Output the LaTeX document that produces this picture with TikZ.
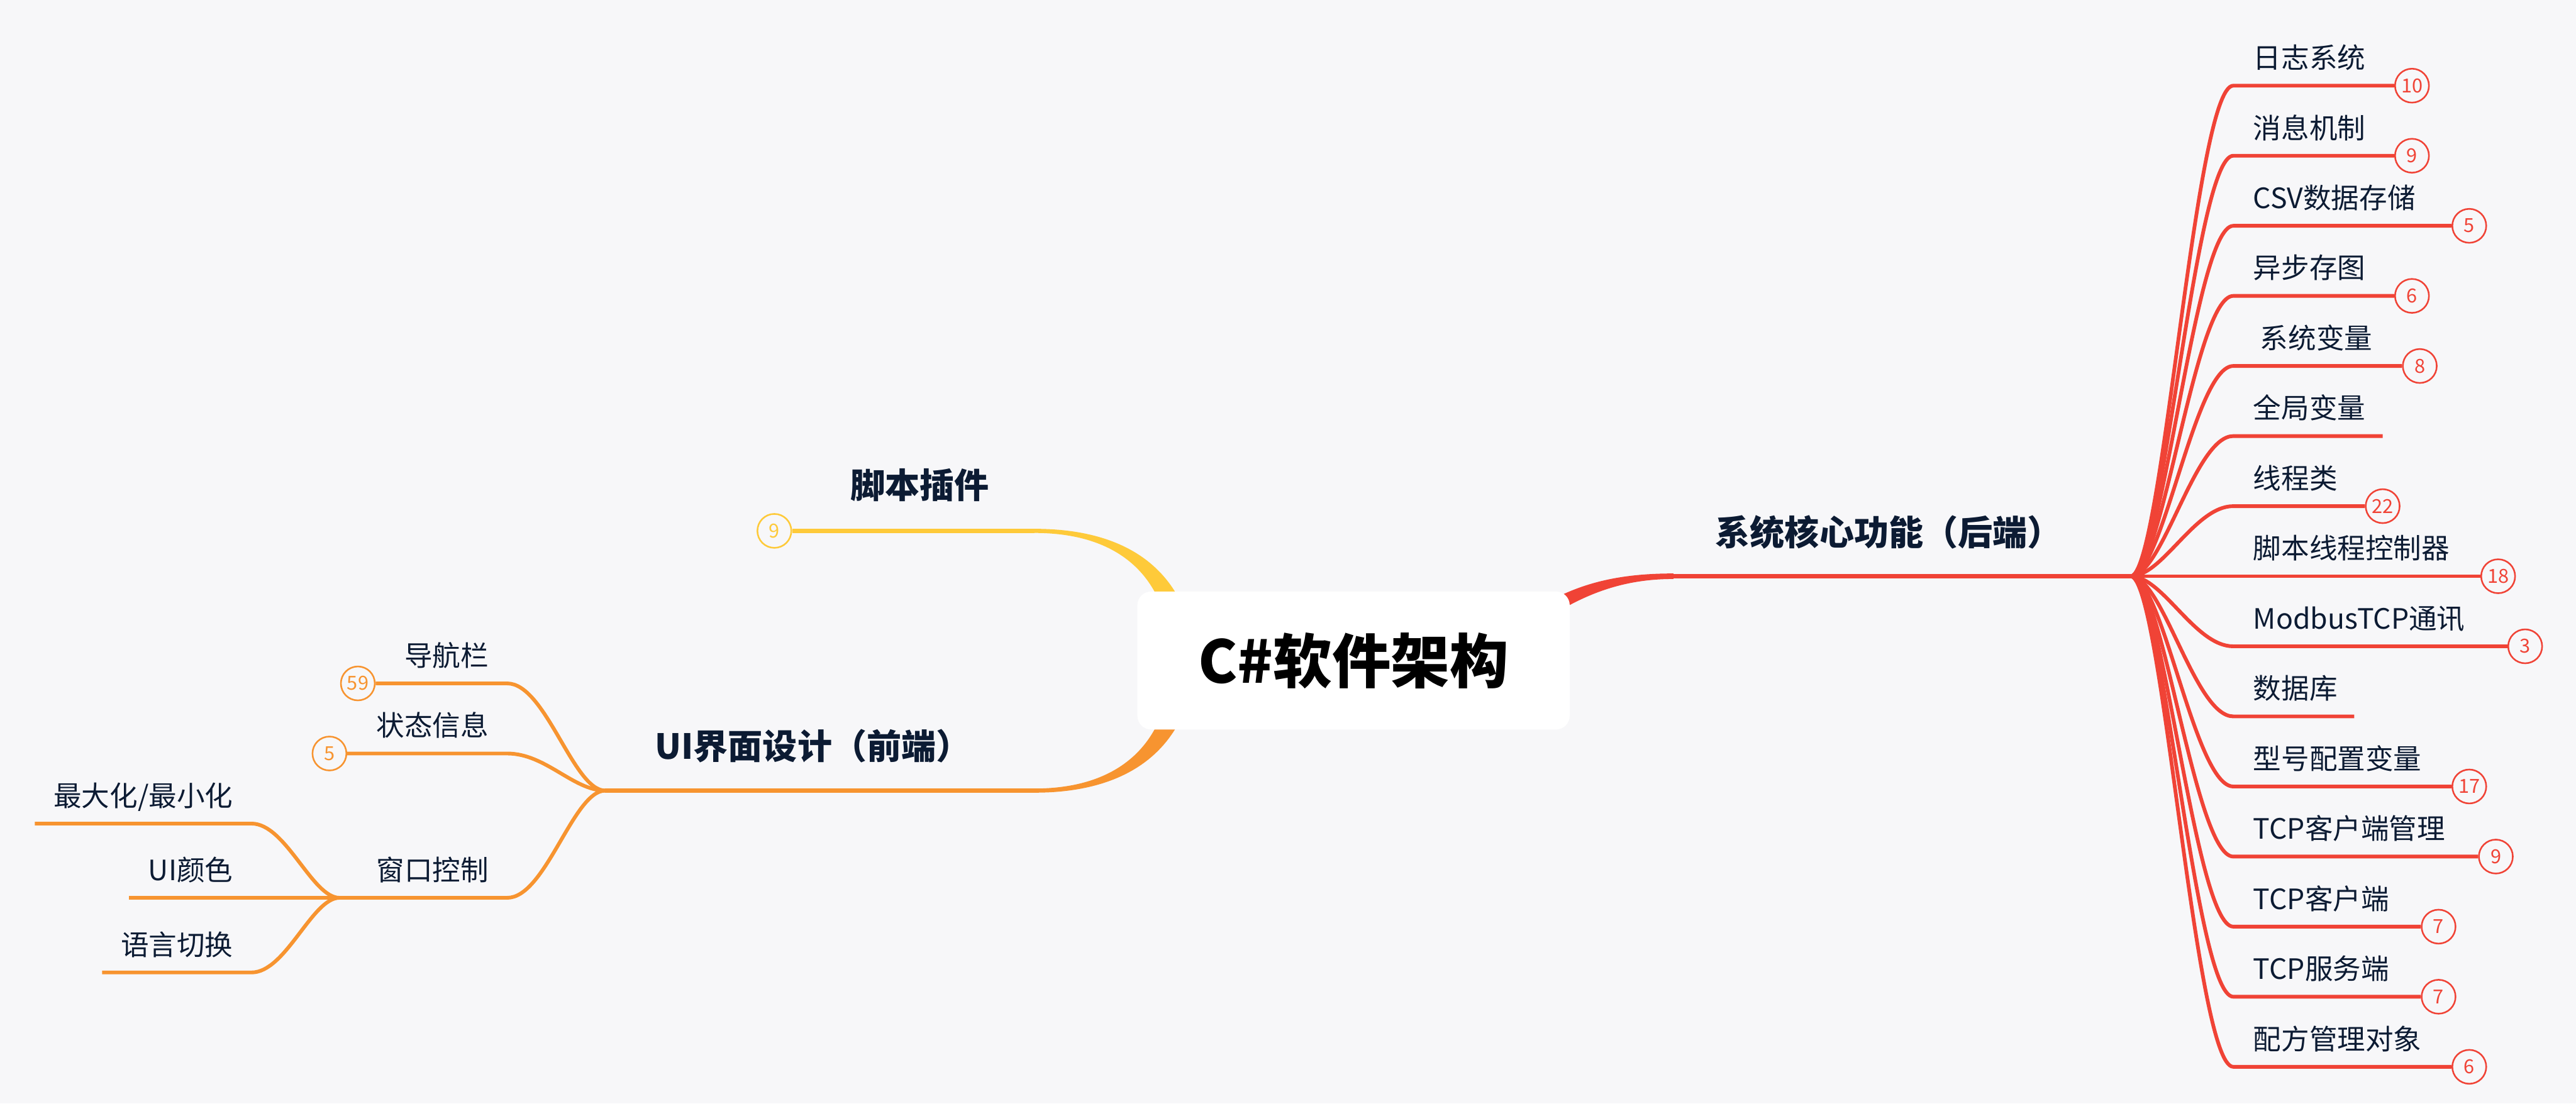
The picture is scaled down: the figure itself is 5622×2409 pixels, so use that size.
\documentclass[tikz,border=0pt]{standalone}
\usepackage{fontspec}
\setmainfont{Noto Sans CJK SC}
\usetikzlibrary{calc}
\definecolor{BackClr}{RGB}{247,247,249}
\definecolor{TextClr}{RGB}{12,27,51}
\definecolor{CoreClr}{RGB}{240,67,54}
\definecolor{UiClr}{RGB}{247,148,48}
\definecolor{PlugClr}{RGB}{254,202,58}
\pgfdeclarelayer{paper}
\pgfdeclarelayer{wires}
\pgfsetlayers{paper,wires,main}

\begin{document}
\begin{tikzpicture}[x=0.01cm,y=-0.01cm,
  topic/.style={font=\fontsize{21.5}{26}\selectfont\bfseries,text=TextClr,inner sep=0pt,anchor=base},
  leaf/.style={font=\fontsize{17.4}{21}\selectfont,text=TextClr,inner sep=0pt},
  badge/.style={circle,draw=#1,text=#1,fill=BackClr,line width=1pt,minimum size=0.74cm,inner sep=0pt,font=\fontsize{12}{14}\selectfont},
  stem/.style={line width=2.6pt},
  twig/.style={line width=2.3pt}]

\begin{pgfonlayer}{paper}
\fill[BackClr] (0,0) rectangle (5622,2409);
\end{pgfonlayer}
\useasboundingbox (0,0) rectangle (5622,2409);

% central topic
\node[fill=white,rounded corners=0.3cm,minimum width=9.43cm,minimum height=3.01cm,
  font=\fontsize{36.5}{44}\selectfont\bfseries,text=black] (root) at (2954,1442) {C\#软件架构};

% main topics
\node[topic] (plugT) at (2007,1088) {脚本插件};
\node[topic] (coreT) at (4122,1190) {系统核心功能（后端）};
\node[topic] (uiT) at (1774,1657) {UI界面设计（前端）};

\coordinate (plug) at (2258,1159);
\coordinate (coreL) at (3652,1258);
\coordinate (core) at (4650,1258);
\coordinate (uiR) at (2258,1726);
\coordinate (ui) at (1321,1726);
\coordinate (win) at (741,1960);

\node[badge=PlugClr] (p1) at (1690,1159) {9};

% back end
\coordinate (c1) at (4874,187);  \node[badge=CoreClr] (n1) at (5264,187) {10};
\coordinate (c2) at (4874,340);  \node[badge=CoreClr] (n2) at (5264,340) {9};
\coordinate (c3) at (4874,493);  \node[badge=CoreClr] (n3) at (5389,493) {5};
\coordinate (c4) at (4874,646);  \node[badge=CoreClr] (n4) at (5264,646) {6};
\coordinate (c5) at (4874,799);  \node[badge=CoreClr] (n5) at (5281,799) {8};
\coordinate (c6) at (4874,952);  \coordinate (n6) at (5200,952);
\coordinate (c7) at (4874,1105); \node[badge=CoreClr] (n7) at (5200,1105) {22};
\coordinate (c8) at (4874,1258); \node[badge=CoreClr] (n8) at (5452,1258) {18};
\coordinate (c9) at (4874,1411); \node[badge=CoreClr] (n9) at (5511,1411) {3};
\coordinate (c10) at (4874,1564); \coordinate (n10) at (5138,1564);
\coordinate (c11) at (4874,1717); \node[badge=CoreClr] (n11) at (5389,1717) {17};
\coordinate (c12) at (4874,1870); \node[badge=CoreClr] (n12) at (5447,1870) {9};
\coordinate (c13) at (4874,2023); \node[badge=CoreClr] (n13) at (5322,2023) {7};
\coordinate (c14) at (4874,2176); \node[badge=CoreClr] (n14) at (5322,2176) {7};
\coordinate (c15) at (4874,2329); \node[badge=CoreClr] (n15) at (5389,2329) {6};

\node[leaf,anchor=base west] (t1) at (4917,149) {日志系统};
\node[leaf,anchor=base west] (t2) at (4917,302) {消息机制};
\node[leaf,anchor=base west] (t3) at (4917,455) {CSV数据存储};
\node[leaf,anchor=base west] (t4) at (4917,608) {异步存图};
\node[leaf,anchor=base west] (t5) at (4932,761) {系统变量};
\node[leaf,anchor=base west] (t6) at (4917,914) {全局变量};
\node[leaf,anchor=base west] (t7) at (4917,1067) {线程类};
\node[leaf,anchor=base west] (t8) at (4917,1220) {脚本线程控制器};
\node[leaf,anchor=base west] (t9) at (4917,1373) {ModbusTCP通讯};
\node[leaf,anchor=base west] (t10) at (4917,1526) {数据库};
\node[leaf,anchor=base west] (t11) at (4917,1679) {型号配置变量};
\node[leaf,anchor=base west] (t12) at (4917,1832) {TCP客户端管理};
\node[leaf,anchor=base west] (t13) at (4917,1985) {TCP客户端};
\node[leaf,anchor=base west] (t14) at (4917,2138) {TCP服务端};
\node[leaf,anchor=base west] (t15) at (4917,2291) {配方管理对象};

% front end
\coordinate (u1) at (1107,1492); \node[badge=UiClr] (m1) at (781,1492) {59};
\coordinate (u2) at (1107,1645); \node[badge=UiClr] (m2) at (719,1645) {5};
\coordinate (u3) at (1107,1960);
\coordinate (w1) at (549,1798);  \coordinate (w1e) at (76,1798);
\coordinate (w2e) at (281,1960);
\coordinate (w3) at (549,2123);  \coordinate (w3e) at (223,2123);

\node[leaf,anchor=base east] (s1) at (1067,1454) {导航栏};
\node[leaf,anchor=base east] (s2) at (1067,1607) {状态信息};
\node[leaf,anchor=base east] (s3) at (1067,1922) {窗口控制};
\node[leaf,anchor=base east] (s4) at (509,1760) {最大化/最小化};
\node[leaf,anchor=base east] (s5) at (509,1922) {UI颜色};
\node[leaf,anchor=base east] (s6) at (509,2085) {语言切换};

\begin{pgfonlayer}{wires}
% tapered stems from the centre
\fill[PlugClr] ($(plug)+(0,-4.5)$) .. controls +(150,0) and +(-55,-95) .. ($(root.north west)+(87,8)$)
  -- ($(root.north west)+(42,8)$) .. controls +(-45,-88) and +(130,0) .. ($(plug)+(0,4.5)$) -- cycle;
\fill[UiClr] ($(uiR)+(0,-4.5)$) .. controls +(130,0) and +(-45,88) .. ($(root.south west)+(42,-8)$)
  -- ($(root.south west)+(87,-8)$) .. controls +(-55,95) and +(150,0) .. ($(uiR)+(0,4.5)$) -- cycle;
\fill[CoreClr] ($(coreL)+(0,-6)$) .. controls +(-90,0) and +(75,-35) .. ($(root.north east)+(-18,8)$)
  -- ($(root.north east)+(-6,33)$) .. controls +(70,-38) and +(-90,0) .. ($(coreL)+(0,6)$) -- cycle;

\draw[PlugClr,stem] (p1.east) -- (plug);
\draw[UiClr,stem] (ui) -- (uiR);
\draw[CoreClr,stem] (coreL) -- (core);

\draw[CoreClr,twig] (core) .. controls +(70,0) and +(-84,0) .. (c1) -- (n1.west);
\draw[CoreClr,twig] (core) .. controls +(70,0) and +(-84,0) .. (c2) -- (n2.west);
\draw[CoreClr,twig] (core) .. controls +(70,0) and +(-84,0) .. (c3) -- (n3.west);
\draw[CoreClr,twig] (core) .. controls +(70,0) and +(-84,0) .. (c4) -- (n4.west);
\draw[CoreClr,twig] (core) .. controls +(70,0) and +(-84,0) .. (c5) -- (n5.west);
\draw[CoreClr,twig] (core) .. controls +(70,0) and +(-84,0) .. (c6) -- (n6);
\draw[CoreClr,twig] (core) .. controls +(70,0) and +(-84,0) .. (c7) -- (n7.west);
\draw[CoreClr,twig] (core) -- (c8) -- (n8.west);
\draw[CoreClr,twig] (core) .. controls +(70,0) and +(-84,0) .. (c9) -- (n9.west);
\draw[CoreClr,twig] (core) .. controls +(70,0) and +(-84,0) .. (c10) -- (n10);
\draw[CoreClr,twig] (core) .. controls +(70,0) and +(-84,0) .. (c11) -- (n11.west);
\draw[CoreClr,twig] (core) .. controls +(70,0) and +(-84,0) .. (c12) -- (n12.west);
\draw[CoreClr,twig] (core) .. controls +(70,0) and +(-84,0) .. (c13) -- (n13.west);
\draw[CoreClr,twig] (core) .. controls +(70,0) and +(-84,0) .. (c14) -- (n14.west);
\draw[CoreClr,twig] (core) .. controls +(70,0) and +(-84,0) .. (c15) -- (n15.west);

\draw[UiClr,twig] (ui) .. controls +(-70,0) and +(84,0) .. (u1) -- (m1.east);
\draw[UiClr,twig] (ui) .. controls +(-70,0) and +(84,0) .. (u2) -- (m2.east);
\draw[UiClr,twig] (ui) .. controls +(-70,0) and +(84,0) .. (u3) -- (win);
\draw[UiClr,twig] (win) .. controls +(-60,0) and +(75,0) .. (w1) -- (w1e);
\draw[UiClr,twig] (win) -- (w2e);
\draw[UiClr,twig] (win) .. controls +(-60,0) and +(75,0) .. (w3) -- (w3e);
\end{pgfonlayer}

\end{tikzpicture}
\end{document}
